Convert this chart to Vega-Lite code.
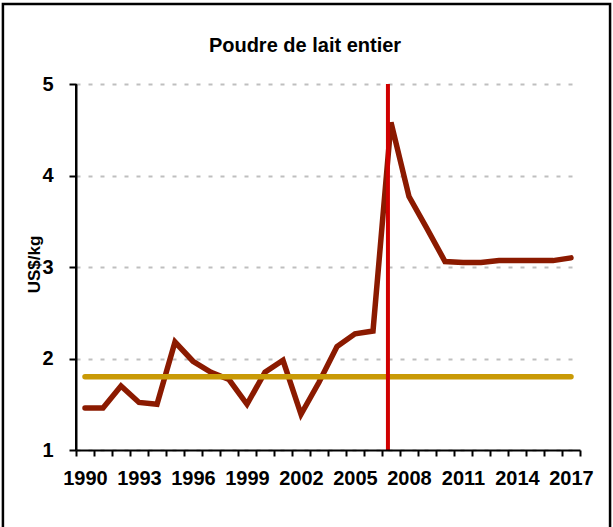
{
  "$schema": "https://vega.github.io/schema/vega-lite/v6.json",
  "autosize": "none",
  "width": 504,
  "height": 366,
  "padding": {"left": 76, "top": 84, "right": 33, "bottom": 77},
  "background": "white",
  "title": {
    "text": "Poudre de lait entier",
    "font": "Liberation Sans",
    "fontSize": 20,
    "fontWeight": "bold",
    "color": "black",
    "anchor": "middle",
    "frame": "group",
    "dx": -23,
    "baseline": "alphabetic",
    "offset": -69
  },
  "datasets": {
    "prices": [
      {"year": 1990, "value": 1.46},
      {"year": 1991, "value": 1.46},
      {"year": 1992, "value": 1.70},
      {"year": 1993, "value": 1.52},
      {"year": 1994, "value": 1.50},
      {"year": 1995, "value": 2.18},
      {"year": 1996, "value": 1.97},
      {"year": 1997, "value": 1.85},
      {"year": 1998, "value": 1.77},
      {"year": 1999, "value": 1.50},
      {"year": 2000, "value": 1.85},
      {"year": 2001, "value": 1.98},
      {"year": 2002, "value": 1.39},
      {"year": 2003, "value": 1.74},
      {"year": 2004, "value": 2.13},
      {"year": 2005, "value": 2.27},
      {"year": 2006, "value": 2.30},
      {"year": 2007, "value": 4.58},
      {"year": 2008, "value": 3.77},
      {"year": 2009, "value": 3.42},
      {"year": 2010, "value": 3.06},
      {"year": 2011, "value": 3.05},
      {"year": 2012, "value": 3.05},
      {"year": 2013, "value": 3.07},
      {"year": 2014, "value": 3.07},
      {"year": 2015, "value": 3.07},
      {"year": 2016, "value": 3.07},
      {"year": 2017, "value": 3.10}
    ],
    "reference": [
      {"year": 1990, "value": 1.8},
      {"year": 2017, "value": 1.8}
    ],
    "marker": [
      {"year": 2006.83, "low": 1, "high": 5}
    ],
    "yaxisline": [
      {"year": 1989.5, "low": 1, "high": 5}
    ],
    "frame": [
      {"x1": 1985.44, "x2": 2019.17, "y1": 0.0, "y2": 5.874}
    ]
  },
  "layer": [
    {
      "data": {"name": "reference"},
      "mark": {"type": "line", "color": "#C99A06", "strokeWidth": 5.5, "strokeCap": "round", "opacity": 0},
      "encoding": {
        "x": {"field": "year", "type": "quantitative", "scale": {"domain": [1989.5, 2017.5], "nice": false, "zero": false}},
        "y": {
          "field": "value", "type": "quantitative",
          "scale": {"domain": [1, 5], "nice": false, "zero": false},
          "axis": {
            "orient": "left",
            "title": null,
            "values": [1, 2, 3, 4, 5],
            "labels": false,
            "ticks": true,
            "tickColor": "black",
            "tickWidth": 2,
            "tickSize": 7,
            "domain": true,
            "domainColor": "black",
            "domainWidth": 2,
            "grid": true,
            "gridColor": "#BFBFBF",
            "gridWidth": 2,
            "gridDash": [4, 8]
          }
        }
      }
    },
    {
      "data": {"name": "yaxisline"},
      "mark": {"type": "rule", "color": "black", "strokeWidth": 2},
      "encoding": {
        "x": {"field": "year", "type": "quantitative", "scale": {"domain": [1989.5, 2017.5], "nice": false, "zero": false}},
        "y": {"field": "low", "type": "quantitative", "scale": {"domain": [1, 5], "nice": false, "zero": false}, "axis": null},
        "y2": {"field": "high"}
      }
    },
    {
      "data": {"name": "prices"},
      "mark": {"type": "line", "color": "#8B1A00", "strokeWidth": 5.5, "strokeCap": "round"},
      "encoding": {
        "x": {
          "field": "year", "type": "quantitative",
          "scale": {"domain": [1989.5, 2017.5], "nice": false, "zero": false},
          "axis": {
            "orient": "bottom",
            "title": null,
            "values": [1989.5,1990.5,1991.5,1992.5,1993.5,1994.5,1995.5,1996.5,1997.5,1998.5,1999.5,2000.5,2001.5,2002.5,2003.5,2004.5,2005.5,2006.5,2007.5,2008.5,2009.5,2010.5,2011.5,2012.5,2013.5,2014.5,2015.5,2016.5,2017.5],
            "tickCount": 40,
            "labelExpr": "(datum.value + 0.5 - 1990) % 3 === 0 ? format(datum.value + 0.5, 'd') : ''",
            "labelOffset": 9,
            "labelFont": "Liberation Sans",
            "labelFontSize": 20,
            "labelFontWeight": "bold",
            "labelColor": "black",
            "labelPadding": 12,
            "labelOverlap": false,
            "labelFlush": false,
            "labelBound": false,
            "grid": false,
            "domain": true,
            "domainColor": "black",
            "domainWidth": 2,
            "ticks": true,
            "tickColor": "black",
            "tickWidth": 2,
            "tickSize": 6,
            "zindex": 1
          }
        },
        "y": {
          "field": "value", "type": "quantitative",
          "scale": {"domain": [1, 5], "nice": false, "zero": false},
          "axis": {
            "orient": "left",
            "title": "US$/kg",
            "titleFont": "Liberation Sans",
            "titleFontSize": 17,
            "titleFontWeight": "bold",
            "titleColor": "black",
            "titleX": -37,
            "titleY": 180,
            "titleAngle": -90,
            "titleAlign": "center",
            "titleBaseline": "alphabetic",
            "values": [1, 2, 3, 4, 5],
            "tickCount": 5,
            "format": "d",
            "labelFont": "Liberation Sans",
            "labelFontSize": 20,
            "labelFontWeight": "bold",
            "labelColor": "black",
            "labelPadding": 23,
            "domain": false,
            "ticks": false,
            "grid": false,
            "zindex": 1
          }
        }
      }
    },
    {
      "data": {"name": "reference"},
      "mark": {"type": "line", "color": "#C99A06", "strokeWidth": 5.5, "strokeCap": "round"},
      "encoding": {
        "x": {"field": "year", "type": "quantitative", "scale": {"domain": [1989.5, 2017.5], "nice": false, "zero": false}},
        "y": {"field": "value", "type": "quantitative", "scale": {"domain": [1, 5], "nice": false, "zero": false}, "axis": null}
      }
    },
    {
      "data": {"name": "marker"},
      "mark": {"type": "rule", "color": "#D00000", "strokeWidth": 4},
      "encoding": {
        "x": {"field": "year", "type": "quantitative", "scale": {"domain": [1989.5, 2017.5], "nice": false, "zero": false}},
        "y": {"field": "low", "type": "quantitative", "scale": {"domain": [1, 5], "nice": false, "zero": false}, "axis": null},
        "y2": {"field": "high"}
      }
    },
    {
      "data": {"name": "frame"},
      "mark": {"type": "rect", "fill": "transparent", "stroke": "black", "strokeWidth": 2.5, "clip": false},
      "encoding": {
        "x": {"field": "x1", "type": "quantitative", "scale": {"domain": [1989.5, 2017.5], "nice": false, "zero": false}},
        "x2": {"field": "x2"},
        "y": {"field": "y1", "type": "quantitative", "scale": {"domain": [1, 5], "nice": false, "zero": false}, "axis": null},
        "y2": {"field": "y2"}
      }
    }
  ],
  "resolve": {"axis": {"y": "independent"}},
  "config": {
    "view": {"stroke": null}
  }
}
